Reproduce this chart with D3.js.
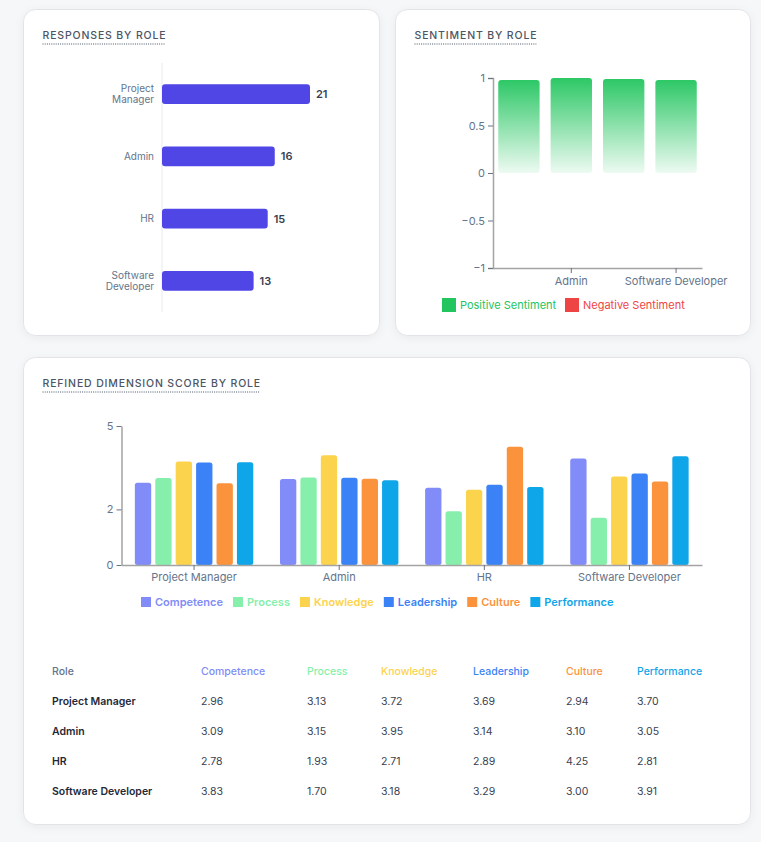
<!DOCTYPE html>
<html><head><meta charset="utf-8">
<script src="https://cdn.jsdelivr.net/npm/d3@7"></script>
<style>
html,body{margin:0;padding:0;background:#f6f7f9;}
svg{display:block;font-family:Inter,"Noto Sans",sans-serif;}
</style></head>
<body>
<svg id="c" width="761" height="842"></svg>
<script>
// ---- data ----
const roles = ["Project Manager", "Admin", "HR", "Software Developer"];
const responses = [21, 16, 15, 13];
const sentimentPositive = [0.98, 1.0, 0.99, 0.98];
const sentimentNegative = [0, 0, 0, 0];
const dimensions = ["Competence", "Process", "Knowledge", "Leadership", "Culture", "Performance"];
const dimColors = ["#818cf8", "#86efac", "#fcd34d", "#3b82f6", "#fb923c", "#0ea5e9"];
const scoresPM = [2.96, 3.13, 3.72, 3.69, 2.94, 3.70];
const scoresAdmin = [3.09, 3.15, 3.95, 3.14, 3.10, 3.05];
const scoresHR = [2.78, 1.93, 2.71, 2.89, 4.25, 2.81];
const scoresSD = [3.83, 1.70, 3.18, 3.29, 3.00, 3.91];
const sentimentTicks = [1, 0.5, 0, -0.5, -1];
const scoreTicks = [0, 2, 5];

const scores = [scoresPM, scoresAdmin, scoresHR, scoresSD];
const svg = d3.select("#c");
const axisCol = "#a3a3a3", tickText = "#64748b";

// shadow
const defs = svg.append("defs");
const f = defs.append("filter").attr("id","sh").attr("x","-10%").attr("y","-10%").attr("width","120%").attr("height","130%");
f.append("feDropShadow").attr("dx",0).attr("dy",2).attr("stdDeviation",4).attr("flood-color","#000").attr("flood-opacity",0.05);
const g = defs.append("linearGradient").attr("id","pos").attr("x1",0).attr("y1",0).attr("x2",0).attr("y2",1);
g.append("stop").attr("offset","0%").attr("stop-color","#22c55e").attr("stop-opacity",0.95);
g.append("stop").attr("offset","100%").attr("stop-color","#22c55e").attr("stop-opacity",0.08);

function card(x,y,w,h,title){
  svg.append("rect").attr("x",x).attr("y",y).attr("width",w).attr("height",h).attr("rx",12)
    .attr("fill","#fff").attr("stroke","#e2e4e8").attr("filter","url(#sh)");
  const t = svg.append("text").attr("x",x+19).attr("y",y+29).attr("font-size",10.5).attr("font-weight",500)
    .attr("letter-spacing","0.85px").attr("fill","#4b5563").text(title);
  const w2 = t.node().getComputedTextLength();
  svg.append("line").attr("x1",x+19).attr("x2",x+19+w2-1).attr("y1",y+34.5).attr("y2",y+34.5)
    .attr("stroke","#475569").attr("stroke-dasharray","1,1.2");
}
card(23.5,9.5,356,326,"RESPONSES BY ROLE");
card(395.5,9.5,355,326,"SENTIMENT BY ROLE");
card(23.5,357.5,727,467,"REFINED DIMENSION SCORE BY ROLE");

// ---- Responses by role ----
{
  const x = d3.scaleLinear().domain([0, d3.max(responses)]).range([162, 310]);
  const y = d3.scaleBand().domain(roles).range([63, 312]).paddingInner(0.68).paddingOuter(0.34);
  svg.append("line").attr("x1",162).attr("x2",162).attr("y1",63).attr("y2",312).attr("stroke","#eef0f3").attr("stroke-width",1.5);
  svg.selectAll(".rb").data(roles).join("rect").attr("x",x(0)).attr("y",d=>y(d))
    .attr("width",(d,i)=>x(responses[i])-x(0)).attr("height",y.bandwidth()).attr("rx",3).attr("fill","#4f46e5");
  svg.selectAll(".rv").data(roles).join("text").attr("x",(d,i)=>x(responses[i])+6).attr("y",d=>y(d)+y.bandwidth()/2+4)
    .attr("font-size",11).attr("font-weight",600).attr("fill","#374151").text((d,i)=>responses[i]);
  roles.forEach(r=>{
    const words = r.split(" ");
    const cy = y(r)+y.bandwidth()/2;
    const n = words.length, lh = 11;
    words.forEach((w,i)=>svg.append("text").attr("text-anchor","end").attr("font-size",10).attr("fill",tickText)
      .attr("x",154).attr("y",cy+3.5+(i-(n-1)/2)*lh).text(w));
  });
}

// ---- Sentiment by role ----
{
  const x = d3.scaleBand().domain(roles).range([493, 702]).paddingInner(0.21).paddingOuter(0.1);
  const y = d3.scaleLinear().domain([-1, 1]).range([268, 78]);
  svg.selectAll(".sp").data(roles).join("rect").attr("x",d=>x(d)).attr("y",(d,i)=>y(sentimentPositive[i]))
    .attr("width",x.bandwidth()).attr("height",(d,i)=>y(0)-y(sentimentPositive[i])).attr("rx",3).attr("fill","url(#pos)");
  const ya = svg.append("g").attr("transform","translate(493,0)")
    .call(d3.axisLeft(y).tickValues(sentimentTicks).tickSize(5).tickPadding(3).tickFormat(d3.format("")));
  ya.select(".domain").attr("stroke",axisCol).attr("stroke-width",1.5);
  ya.selectAll(".tick line").attr("stroke","#6b7280");
  ya.selectAll("text").attr("font-size",11).attr("fill",tickText).attr("font-family","Inter");
  const xa = svg.append("g").attr("transform","translate(0,268)")
    .call(d3.axisBottom(x).tickValues(roles.filter((d,i)=>i%2===1)).tickSize(5).tickSizeOuter(0).tickPadding(4));
  xa.select(".domain").attr("stroke",axisCol).attr("stroke-width",1.5);
  xa.selectAll(".tick line").attr("stroke","#6b7280");
  xa.selectAll("text").attr("font-size",11).attr("fill",tickText).attr("font-family","Inter");
  const leg = [["Positive Sentiment","#22c55e"],["Negative Sentiment","#ef4444"]];
  const lx = [442, 565];
  leg.forEach((l,i)=>{
    svg.append("rect").attr("x",lx[i]).attr("y",298).attr("width",14).attr("height",14).attr("fill",l[1]);
    svg.append("text").attr("x",lx[i]+18).attr("y",309).attr("font-size",11).attr("fill",l[1]).text(l[0]);
  });
}

// ---- Refined dimension score ----
{
  const x0 = d3.scaleBand().domain(roles).range([121.5, 702]).paddingInner(0.17).paddingOuter(0.085);
  const x1 = d3.scaleBand().domain(dimensions).range([0, x0.bandwidth()]).paddingInner(0.2).paddingOuter(0.05);
  const y = d3.scaleLinear().domain([0, 5]).range([565, 426]);
  roles.forEach((r,ri)=>{
    svg.append("g").selectAll("rect").data(dimensions).join("rect")
      .attr("x",d=>x0(r)+x1(d)).attr("y",(d,di)=>y(scores[ri][di]))
      .attr("width",x1.bandwidth()).attr("height",(d,di)=>y(0)-y(scores[ri][di]))
      .attr("rx",2.5).attr("fill",(d,di)=>dimColors[di]);
  });
  const ya = svg.append("g").attr("transform","translate(121.5,0)")
    .call(d3.axisLeft(y).tickValues(scoreTicks).tickSize(5).tickPadding(3).tickSizeOuter(0).tickFormat(d3.format("d")));
  ya.select(".domain").attr("stroke",axisCol).attr("stroke-width",1.5);
  ya.selectAll(".tick line").attr("stroke","#6b7280");
  ya.selectAll("text").attr("font-size",11).attr("fill",tickText).attr("font-family","Inter");
  const xa = svg.append("g").attr("transform","translate(0,565)")
    .call(d3.axisBottom(x0).tickSize(5).tickSizeOuter(0).tickPadding(3));
  xa.select(".domain").attr("stroke",axisCol).attr("stroke-width",1.5);
  xa.selectAll(".tick line").attr("stroke","#6b7280");
  xa.selectAll("text").attr("font-size",11).attr("fill",tickText).attr("font-family","Inter");
  // legend centered
  const lg = svg.append("g");
  let cx = 0;
  dimensions.forEach((d,i)=>{
    const it = lg.append("g").attr("transform",`translate(${cx},0)`);
    it.append("rect").attr("x",0).attr("y",-9).attr("width",10).attr("height",10).attr("fill",dimColors[i]);
    const t = it.append("text").attr("x",14).attr("y",0).attr("font-size",11).attr("font-weight",600).attr("fill",dimColors[i]).text(d);
    cx += 14 + t.node().getComputedTextLength() + 10;
  });
  const tw = cx - 10;
  lg.attr("transform",`translate(${141.5 + (613-141.5-tw)/2},606)`);
  // table
  const colX = [52, 201, 307, 381, 473, 566, 637];
  const rowY = [701, 731, 761, 791];
  svg.append("text").attr("x",colX[0]).attr("y",675).attr("font-size",10.5).attr("font-weight",500).attr("fill","#64748b").text("Role");
  dimensions.forEach((d,i)=>svg.append("text").attr("x",colX[i+1]).attr("y",675).attr("font-size",10.5).attr("font-weight",500).attr("fill",dimColors[i]).text(d));
  roles.forEach((r,ri)=>{
    svg.append("text").attr("x",colX[0]).attr("y",rowY[ri]+4).attr("font-size",10.5).attr("font-weight",600).attr("fill","#1f2937").text(r);
    scores[ri].forEach((v,di)=>svg.append("text").attr("x",colX[di+1]).attr("y",rowY[ri]+4).attr("font-size",10.5).attr("fill","#374151").text(d3.format(".2f")(v)));
  });
}
</script>
</body></html>
